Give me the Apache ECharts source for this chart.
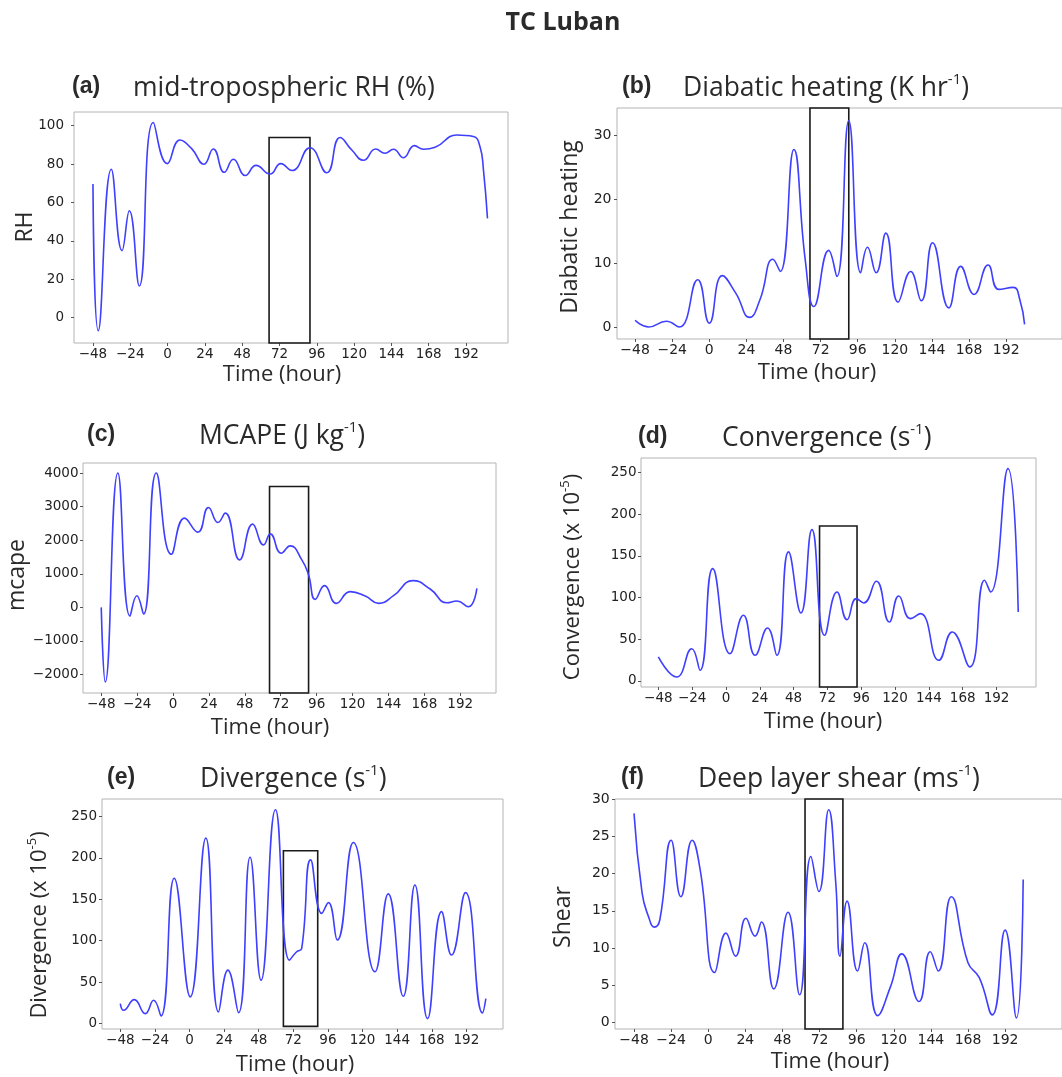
<!DOCTYPE html>
<html>
<head>
<meta charset="utf-8">
<script src="https://cdn.jsdelivr.net/npm/echarts@6/dist/echarts.min.js"></script>
<style>
html, body {margin: 0; padding: 0; background: #fff}
#chart {width: 1062px; height: 1077px}
</style>
</head>
<body>
<div id="chart"></div>
<script>
// values (time in hours)
var rhHours = [-48, -44.6, -36.2, -29.3, -24.6, -18.2, -9.2, -0.2, 8, 15.5, 23.4, 29.4, 36.5, 42.3, 50, 56.9, 65.9, 72.8, 80, 91.6, 102.4, 111, 118.5, 126, 133.9, 139.9, 145.3, 151.7, 158.8, 164.6, 172.1, 186, 196.7, 201, 203.2, 205.8]
var rhValues = [69.6, -6.8, 77.3, 34.9, 55.7, 16.5, 101.6, 80.2, 92.5, 88, 79.9, 87.8, 75.7, 82.5, 74, 79.3, 74.8, 80.2, 76.6, 88.5, 75.5, 93.8, 87.3, 82, 87.8, 85.6, 87.7, 83.3, 89.6, 87.7, 88.7, 95.1, 94.3, 89, 77, 51.7]

var heatHours = [-48, -39.2, -27.8, -19.4, -7.5, 0, 8.4, 17.1, 26.1, 32.8, 41.1, 45.9, 54.7, 62, 67.6, 77.2, 82.5, 90.2, 97.9, 102.3, 107.9, 114.2, 122.1, 130.2, 137.1, 144.4, 154.9, 162.6, 171.2, 180.3, 187.2, 196.6, 200.8, 203.9]
var heatValues = [1.05, 0, 0.9, 0, 7.4, 0.6, 8.05, 5.3, 1.5, 4.3, 10.6, 8.7, 27.8, 10.6, 3.2, 12, 7.9, 32.3, 8.5, 12.5, 8.5, 14.7, 3.9, 8.7, 4.1, 13.2, 3, 9.5, 5.1, 9.7, 5.9, 6.2, 4.3, 0.4]

var capeHours = [-48, -45.3, -36.9, -28.8, -24.2, -19.7, -11.2, -1.2, 7.7, 16.6, 23.7, 30, 34.9, 44.5, 53.2, 60.5, 65, 72.3, 78.3, 86.1, 90.6, 95, 101.3, 109.1, 118.4, 128.5, 137.4, 147.4, 160.3, 171.9, 183.1, 189.7, 197.5, 203.1]
var capeValues = [0, -2219, 4000, -259, 348, -199, 4000, 1582, 2657, 2239, 2975, 2527, 2806, 1413, 2478, 1861, 2189, 1612, 1831, 1413, 965, 239, 647, 120, 468, 338, 120, 348, 796, 547, 139, 189, 20, 567]

var convHours = [-48, -35, -24.3, -18.4, -9.4, 2.9, 12.4, 20.7, 29.5, 36.1, 44.4, 53.2, 61, 70, 78.8, 85.9, 92.5, 97.7, 106.7, 115.9, 122.6, 130.9, 138, 151, 160.5, 173, 183.5, 187.8, 200.1, 207.4]
var convValues = [28.8, 4.8, 38.7, 12.8, 134.6, 32.7, 78.7, 30.8, 63.5, 30.8, 154.6, 81.5, 181.3, 54.7, 106.6, 73.5, 98.6, 93.5, 119.4, 70.7, 101.8, 74.7, 80.7, 24.8, 58.7, 16.8, 120.6, 106.6, 254.4, 82.7]

var divHours = [-48, -45.7, -38.3, -30.7, -24.9, -19.8, -10.6, 0.5, 11.3, 20.1, 26.6, 34, 42, 49.6, 59.6, 69.3, 74.3, 77.8, 84, 91.7, 96.3, 102.5, 113.6, 128.6, 137.8, 148.2, 156.3, 165.1, 174.8, 181.7, 191.4, 203.2, 205.5]
var divValues = [24.2, 16.1, 29, 12.1, 28.2, 9.3, 175.4, 32.3, 223.8, 14.1, 64.5, 13.3, 200.8, 52.4, 258, 76.6, 86.7, 90.7, 197.6, 133, 146, 100.8, 218.5, 62.5, 156.5, 33, 167.3, 6, 135.1, 82.7, 158, 12.9, 30.2]

var shearHours = [-48, -42.8, -38.6, -34.9, -31.3, -24, -17.7, -10.4, -5.2, 4.2, 11.5, 17.7, 24.4, 30.3, 34.4, 42.4, 51.6, 59.1, 66.4, 71.6, 77.9, 82.5, 85.2, 89.8, 96.6, 101.2, 109.6, 117.9, 125.2, 136.3, 143.6, 148.8, 157.2, 168, 175.3, 183.7, 192, 199.3, 203.7]
var shearValues = [28.1, 17.4, 14.2, 12.8, 13.8, 24.5, 16.9, 24.5, 20.5, 6.7, 12, 8.9, 14, 11.6, 13.5, 4.5, 14.8, 3.7, 22.3, 17.6, 28.6, 18.7, 8.9, 16.3, 6.9, 10.7, 0.9, 4.8, 9.2, 2.8, 9.5, 6.9, 16.9, 8, 6, 1, 12.4, 0.6, 19.2]

// tick labels
var hourTicks = [-48, -24, 0, 24, 48, 72, 96, 120, 144, 168, 192]
var rhTicks = [0, 20, 40, 60, 80, 100]
var heatTicks = [0, 10, 20, 30]
var capeTicks = [-2000, -1000, 0, 1000, 2000, 3000, 4000]
var convTicks = [0, 50, 100, 150, 200, 250]
var divTicks = [0, 50, 100, 150, 200, 250]
var shearTicks = [0, 5, 10, 15, 20, 25, 30]

// highlighted window boxes: [hourFrom, hourTo, valueFrom, valueTo]
var rhBox = [65.3, 91.6, -13.2, 93.8]
var heatBox = [65.1, 90.2, -1.88, 34.3]
var capeBox = [64.5, 90.6, -2549, 3600]
var convBox = [66.4, 93, -7.2, 185.7]
var divBox = [65.1, 88.9, -3.3, 208.5]
var shearBox = [62.6, 87.1, -0.9, 30.04]

var panels = [
  {hours: rhHours, values: rhValues, yTicks: rhTicks, box: rhBox, ym: 10,
    grid: {left: 74, top: 112, width: 434, height: 231}, x: [-60.2, 219], y: [-13.2, 107.1], tick: 13.5},
  {hours: heatHours, values: heatValues, yTicks: heatTicks, box: heatBox, ym: 5.5,
    grid: {left: 617, top: 108, width: 460, height: 231}, x: [-59.7, 228.1], y: [-1.88, 34.3], tick: 14},
  {hours: capeHours, values: capeValues, yTicks: capeTicks, box: capeBox, ym: 4.5,
    grid: {left: 83, top: 463, width: 413, height: 230}, x: [-60.2, 215.9], y: [-2549, 4298], tick: 13.5},
  {hours: convHours, values: convValues, yTicks: convTicks, box: convBox, ym: 4.5,
    grid: {left: 641, top: 458, width: 395, height: 229}, x: [-60.3, 220], y: [-7.2, 267.1], tick: 13.5},
  {hours: divHours, values: divValues, yTicks: divTicks, box: divBox, ym: 5,
    grid: {left: 102, top: 799, width: 401, height: 230}, x: [-60.7, 217.4], y: [-6.5, 271], tick: 13.5},
  {hours: shearHours, values: shearValues, yTicks: shearTicks, box: shearBox, ym: 5.3,
    grid: {left: 615, top: 799, width: 462, height: 230}, x: [-60.3, 228.8], y: [-0.9, 30.04], tick: 14},
]

function minus(v) {
  return v < 0 ? '\u2212' + Math.abs(v) : '' + v
}

var grids = [], xAxes = [], yAxes = [], series = []
panels.forEach(function (p, i) {
  grids.push(Object.assign({show: true, borderColor: '#b4b4b4', borderWidth: 1}, p.grid))
  var lbl = {fontFamily: 'DejaVu Sans', fontSize: p.tick, color: '#222', formatter: minus}
  xAxes.push({
    type: 'value', gridIndex: i, min: p.x[0], max: p.x[1],
    axisLine: {show: false, onZero: false}, splitLine: {show: false},
    axisTick: {show: true, length: 3, customValues: hourTicks, lineStyle: {color: '#555'}},
    axisLabel: Object.assign({margin: 4, customValues: hourTicks}, lbl)
  })
  yAxes.push({
    type: 'value', gridIndex: i, min: p.y[0], max: p.y[1],
    axisLine: {show: false, onZero: false}, splitLine: {show: false},
    axisTick: {show: true, length: 3, customValues: p.yTicks, lineStyle: {color: '#555'}},
    axisLabel: Object.assign({margin: p.ym, customValues: p.yTicks}, lbl)
  })
  series.push({
    type: 'line', xAxisIndex: i, yAxisIndex: i,
    data: p.hours.map(function (h, k) { return [h, p.values[k]] }),
    smooth: 0.5, showSymbol: false, clip: false,
    lineStyle: {color: '#3f3fff', width: 1.6},
    markArea: {
      silent: true,
      emphasis: {disabled: true},
      itemStyle: {color: 'rgba(0,0,0,0)', borderColor: '#1a1a1a', borderWidth: 1.6, opacity: 1},
      data: [[{coord: [p.box[0], p.box[2]]}, {coord: [p.box[1], p.box[3]]}]]
    }
  })
})

var txtFont = '"Open Sans", "Noto Sans", sans-serif'
var rich = {
  t: {fontFamily: txtFont, fontSize: 26.5, fill: '#2a2a2a', lineHeight: 32, verticalAlign: 'middle'},
  s: {fontFamily: txtFont, fontSize: 15, fill: '#2a2a2a', lineHeight: 32, verticalAlign: 'top'},
  n: {fontFamily: txtFont, fontSize: 22, fill: '#2a2a2a', lineHeight: 28, verticalAlign: 'middle'},
  m: {fontFamily: txtFont, fontSize: 13, fill: '#2a2a2a', lineHeight: 28, verticalAlign: 'top'}
}

function text(str, x, y, opts) {
  opts = opts || {}
  return {
    type: 'text', x: x, y: y, rotation: opts.rot || 0, silent: true,
    style: {
      text: str, rich: rich, fill: '#2a2a2a',
      fontFamily: opts.family || txtFont, fontSize: opts.size || 22, fontWeight: opts.weight || 'normal',
      align: opts.align || 'center', verticalAlign: 'middle'
    }
  }
}

function letter(str, x, y) {
  return text(str, x, y, {family: '"Liberation Sans", Arial, sans-serif', size: 23, weight: 'bold', align: 'left'})
}

var labels = [
  text('TC Luban', 563, 23, {weight: 'bold', size: 25}),
  letter('(a)', 72, 87), text('{t|mid-tropospheric RH (%)}', 133, 88, {align: 'left'}),
  letter('(b)', 622, 87), text('{t|Diabatic heating (K hr}{s|-1}{t|)}', 683, 88, {align: 'left'}),
  letter('(c)', 87, 435), text('{t|MCAPE (J kg}{s|-1}{t|)}', 199, 436, {align: 'left'}),
  letter('(d)', 638, 437), text('{t|Convergence (s}{s|-1}{t|)}', 722, 438, {align: 'left'}),
  letter('(e)', 107, 778), text('{t|Divergence (s}{s|-1}{t|)}', 200, 779, {align: 'left'}),
  letter('(f)', 621, 778), text('{t|Deep layer shear (ms}{s|-1}{t|)}', 698, 779, {align: 'left'}),

  text('Time (hour)', 282, 375), text('Time (hour)', 817, 373),
  text('Time (hour)', 270, 728), text('Time (hour)', 823, 722),
  text('Time (hour)', 295, 1065), text('Time (hour)', 830, 1062),

  text('RH', 25, 227, {rot: Math.PI / 2, size: 23}),
  text('Diabatic heating', 570, 227, {rot: Math.PI / 2, size: 23}),
  text('mcape', 17, 575, {rot: Math.PI / 2, size: 23}),
  text('{n|Convergence (x 10}{m|-5}{n|)}', 573, 577, {rot: Math.PI / 2}),
  text('{n|Divergence (x 10}{m|-5}{n|)}', 40, 925, {rot: Math.PI / 2}),
  text('Shear', 563, 917, {rot: Math.PI / 2, size: 23})
]

var chart = echarts.init(document.getElementById('chart'))
chart.setOption({
  animation: false,
  backgroundColor: '#fff',
  grid: grids,
  xAxis: xAxes,
  yAxis: yAxes,
  series: series,
  graphic: labels
})
</script>
</body>
</html>
